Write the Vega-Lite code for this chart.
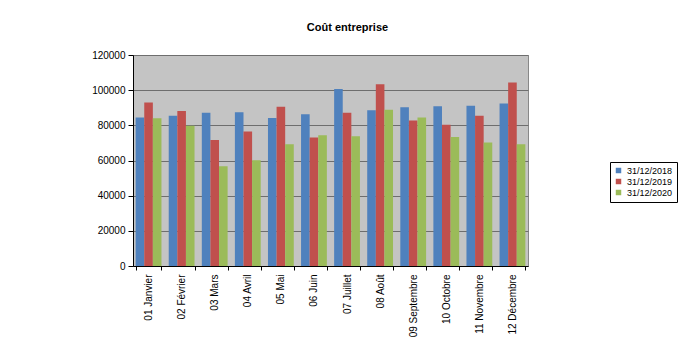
{
  "$schema": "https://vega.github.io/schema/vega-lite/v6.json",
  "autosize": {"type": "none"},
  "padding": {"left": 133, "top": 55, "right": 151, "bottom": 83},
  "width": 395,
  "height": 211,
  "background": "white",
  "title": {"text": "Coût entreprise", "font": "Liberation Sans", "fontSize": 11, "fontWeight": "bold", "color": "black", "offset": 17, "anchor": "middle", "dx": 17},
  "data": {"values": [
    {"mois": "01 Janvier", "serie": "31/12/2018", "v": 84500},
    {"mois": "01 Janvier", "serie": "31/12/2019", "v": 93000},
    {"mois": "01 Janvier", "serie": "31/12/2020", "v": 84000},
    {"mois": "02 Février", "serie": "31/12/2018", "v": 85500},
    {"mois": "02 Février", "serie": "31/12/2019", "v": 88200},
    {"mois": "02 Février", "serie": "31/12/2020", "v": 79700},
    {"mois": "03 Mars", "serie": "31/12/2018", "v": 87200},
    {"mois": "03 Mars", "serie": "31/12/2019", "v": 71700},
    {"mois": "03 Mars", "serie": "31/12/2020", "v": 56800},
    {"mois": "04 Avril", "serie": "31/12/2018", "v": 87500},
    {"mois": "04 Avril", "serie": "31/12/2019", "v": 76500},
    {"mois": "04 Avril", "serie": "31/12/2020", "v": 60200},
    {"mois": "05 Mai", "serie": "31/12/2018", "v": 84200},
    {"mois": "05 Mai", "serie": "31/12/2019", "v": 90500},
    {"mois": "05 Mai", "serie": "31/12/2020", "v": 69200},
    {"mois": "06 Juin", "serie": "31/12/2018", "v": 86300},
    {"mois": "06 Juin", "serie": "31/12/2019", "v": 73100},
    {"mois": "06 Juin", "serie": "31/12/2020", "v": 74400},
    {"mois": "07 Juillet", "serie": "31/12/2018", "v": 100700},
    {"mois": "07 Juillet", "serie": "31/12/2019", "v": 87100},
    {"mois": "07 Juillet", "serie": "31/12/2020", "v": 73800},
    {"mois": "08 Août", "serie": "31/12/2018", "v": 88600},
    {"mois": "08 Août", "serie": "31/12/2019", "v": 103400},
    {"mois": "08 Août", "serie": "31/12/2020", "v": 88800},
    {"mois": "09 Septembre", "serie": "31/12/2018", "v": 90300},
    {"mois": "09 Septembre", "serie": "31/12/2019", "v": 82700},
    {"mois": "09 Septembre", "serie": "31/12/2020", "v": 84400},
    {"mois": "10 Octobre", "serie": "31/12/2018", "v": 90900},
    {"mois": "10 Octobre", "serie": "31/12/2019", "v": 80300},
    {"mois": "10 Octobre", "serie": "31/12/2020", "v": 73400},
    {"mois": "11 Novembre", "serie": "31/12/2018", "v": 91200},
    {"mois": "11 Novembre", "serie": "31/12/2019", "v": 85400},
    {"mois": "11 Novembre", "serie": "31/12/2020", "v": 70200},
    {"mois": "12 Décembre", "serie": "31/12/2018", "v": 92400},
    {"mois": "12 Décembre", "serie": "31/12/2019", "v": 104300},
    {"mois": "12 Décembre", "serie": "31/12/2020", "v": 69200}
  ]},
  "mark": {"type": "bar", "stroke": null},
  "encoding": {
    "x": {"field": "mois", "type": "nominal", "sort": null,
      "scale": {"paddingInner": 0.22, "paddingOuter": 0.08},
      "axis": {"title": null, "labelAngle": -90, "labelAlign": "right", "labelBaseline": "middle", "labelFont": "Liberation Sans", "labelFontSize": 10, "labelColor": "black", "labelPadding": 4, "tickBand": "extent", "tickColor": "black", "tickSize": 4, "domainColor": "black", "grid": false}},
    "xOffset": {"field": "serie", "type": "nominal", "scale": {"paddingInner": 0, "paddingOuter": 0}},
    "y": {"field": "v", "type": "quantitative",
      "scale": {"domain": [0, 120000], "nice": false},
      "axis": {"title": null, "values": [0, 20000, 40000, 60000, 80000, 100000, 120000], "format": "d", "labelFont": "Liberation Sans", "labelFontSize": 10, "labelColor": "black", "labelPadding": 3, "tickColor": "black", "tickSize": 5, "domainColor": "black", "gridColor": "#6e6e6e", "gridWidth": 1}},
    "color": {"field": "serie", "type": "nominal",
      "scale": {"domain": ["31/12/2018", "31/12/2019", "31/12/2020"], "range": ["#4f81bd", "#c0504d", "#9bbb59"]},
      "legend": {"title": null, "orient": "none", "legendX": 477, "legendY": 107, "symbolType": "square", "symbolSize": 30, "labelFont": "Liberation Sans", "labelFontSize": 9, "labelColor": "black", "rowPadding": 1, "padding": 4, "strokeColor": "black", "fillColor": "white"}}
  },
  "config": {"view": {"fill": "#c4c4c4", "stroke": "#888888"}}
}
